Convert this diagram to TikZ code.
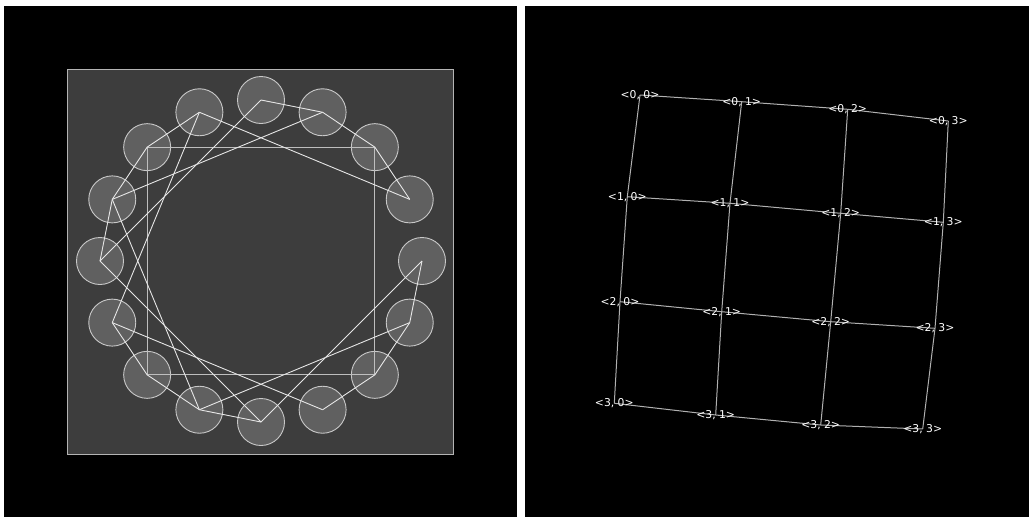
\documentclass[tikz,border=0pt]{standalone}
\usepackage{fontspec}
\setmainfont{DejaVu Sans}
\definecolor{discfill}{HTML}{606060}
\definecolor{discedge}{HTML}{C8C8C8}
\definecolor{webline}{HTML}{E6E6E6}
\definecolor{sqline}{HTML}{BEBEBE}
\definecolor{sqfill}{HTML}{3D3D3D}
\definecolor{sqborder}{HTML}{B4B4B4}
\definecolor{gridline}{HTML}{B0B0B0}
\begin{document}
\begin{tikzpicture}[x=1pt,y=-1pt,
  disc/.style={circle,minimum size=47pt,inner sep=0pt,fill=discfill,draw=discedge,line width=0.9pt},
  web/.style={draw=webline,line width=0.9pt},
  sqedge/.style={draw=sqline,line width=1.15pt},
  gridedge/.style={draw=gridline,line width=1pt},
  lbl/.style={text=white,font=\fontsize{10.8}{12}\selectfont,inner sep=0pt}]
\useasboundingbox (0,0) rectangle (1029,517);
\fill[white] (0,0) rectangle (1029,517);
\fill[black] (4,6) rectangle (517,517);
\fill[black] (525,6) rectangle (1029,517);
\draw[fill=sqfill,draw=sqborder,line width=0.9pt] (67.5,69.5) rectangle (453.5,454.5);
% discs
\foreach \k in {0,...,15}
  \node[disc] (c\k) at ({261+161*cos(90-22.5*\k)},{261-161*sin(90-22.5*\k)}) {};
% square
\draw[sqedge] (c14.center) -- (c2.center) -- (c6.center) -- (c10.center) -- cycle;
% web
\foreach \a/\b in {0/1,1/2,2/3,4/5,5/6,6/7,8/9,9/10,10/11,12/13,13/14,14/15,
                   3/15,12/0,13/1,13/9,15/11,11/7,12/8,9/5,8/4}
  \draw[web] (c\a.center) -- (c\b.center);
% right grid
\coordinate (g00) at (640,95);
\coordinate (g01) at (741.7,101.7);
\coordinate (g02) at (847.7,109.3);
\coordinate (g03) at (948.3,121);
\coordinate (g10) at (627.3,196.7);
\coordinate (g11) at (730,203.3);
\coordinate (g12) at (840.7,213.3);
\coordinate (g13) at (943.3,222.3);
\coordinate (g20) at (620,301.7);
\coordinate (g21) at (721.7,311.7);
\coordinate (g22) at (830.7,321.7);
\coordinate (g23) at (935,328.3);
\coordinate (g30) at (614.3,403.3);
\coordinate (g31) at (715.7,415);
\coordinate (g32) at (820.7,425);
\coordinate (g33) at (922.7,429);
\foreach \i in {0,1,2,3} {
  \draw[gridedge] (g\i0) -- (g\i1) -- (g\i2) -- (g\i3);
  \draw[gridedge] (g0\i) -- (g1\i) -- (g2\i) -- (g3\i);
}
\foreach \i in {0,1,2,3}
  \foreach \j in {0,1,2,3}
    \node[lbl] (l\i\j) at (g\i\j) {<\i, \j>};
\end{tikzpicture}
\end{document}
